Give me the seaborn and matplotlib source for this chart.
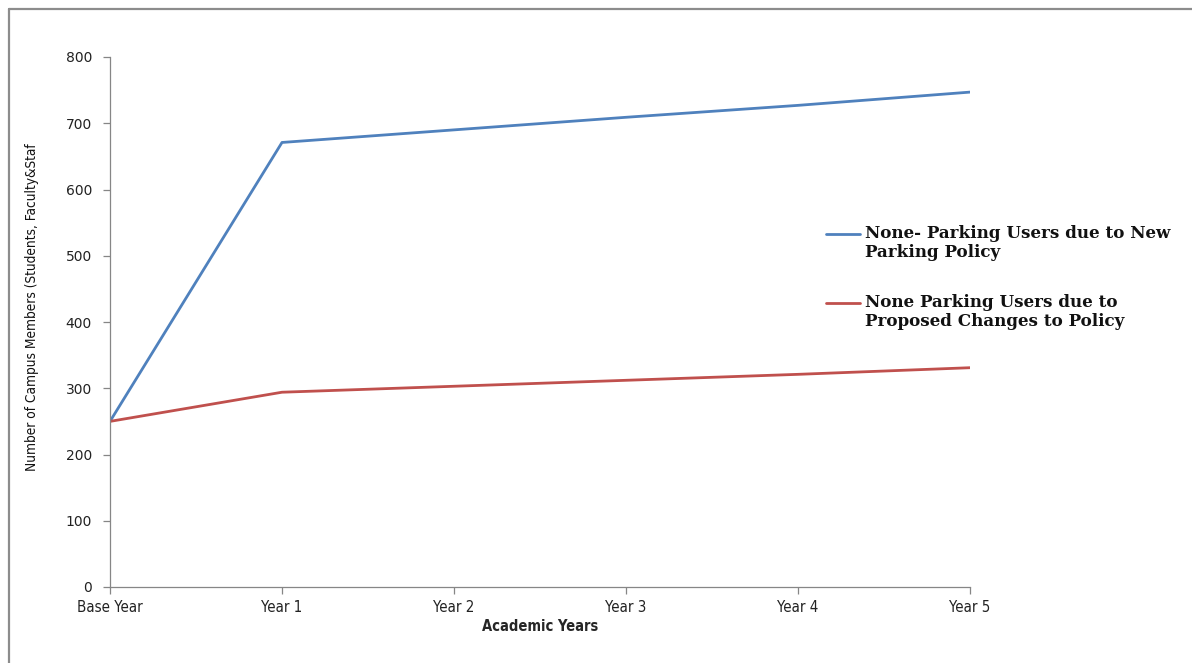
import matplotlib
matplotlib.use("Agg")
import matplotlib.pyplot as plt
import seaborn as sns
import pandas as pd
from matplotlib.lines import Line2D
from matplotlib.legend_handler import HandlerLine2D
from matplotlib import font_manager

# Academic years and projected non-parking users per scenario
years = ["Base Year", "Year 1", "Year 2", "Year 3", "Year 4", "Year 5"]
new_policy = [250, 671, 690, 709, 727, 747]
proposed_changes = [250, 294, 303, 312, 321, 331]

series_names = [
    "None- Parking Users due to New\nParking Policy",
    "None Parking Users due to\nProposed Changes to Policy",
]
colors = ["#4F81BD", "#C0504D"]

df = pd.DataFrame({
    "year": years * 2,
    "pos": list(range(len(years))) * 2,
    "value": new_policy + proposed_changes,
    "series": [series_names[0]] * len(years) + [series_names[1]] * len(years),
})

sns.set_style("white")

installed = {f.name for f in font_manager.fontManager.ttflist}
narrow = [n for n in ["Liberation Sans Narrow", "DejaVu Sans Condensed"] if n in installed] + ["DejaVu Sans"]
narrow_kw = {"family": narrow, "stretch": "condensed"}


class FirstLineHandler(HandlerLine2D):
    """Line handle aligned with the first text line of a two-line label."""

    def create_artists(self, legend, orig_handle, xdescent, ydescent,
                       width, height, fontsize, trans):
        artists = super().create_artists(legend, orig_handle, xdescent,
                                         ydescent, width, height, fontsize,
                                         trans)
        for a in artists:
            a.set_ydata([y + 0.58 * fontsize for y in a.get_ydata()])
        return artists


fig = plt.figure(figsize=(11.92, 6.63), dpi=100)
ax = fig.add_axes([110 / 1192, 1 - 587 / 663, 860 / 1192, 530 / 663])

sns.lineplot(data=df, x="pos", y="value", hue="series", palette=colors,
             linewidth=2.0, ax=ax, legend=False)

ax.set_xlim(0, len(years) - 1)
ax.set_ylim(0, 800)
ax.set_yticks(range(0, 801, 100))
ax.set_xticks(range(len(years)))
ax.set_xticklabels(years, fontsize=10.8, color="#222222", **narrow_kw)
for lbl in ax.get_yticklabels():
    lbl.set_fontsize(10)
    lbl.set_color("#222222")

for side in ["top", "right"]:
    ax.spines[side].set_visible(False)
for side in ["left", "bottom"]:
    ax.spines[side].set_color("#868686")
    ax.spines[side].set_linewidth(0.9)
ax.tick_params(axis="both", which="major", direction="out", length=5,
               width=0.9, color="#868686", left=True, bottom=True)
ax.tick_params(axis="y", pad=8)
ax.tick_params(axis="x", pad=4)

ax.set_xlabel("Academic Years", fontsize=10.5, fontweight="bold",
              labelpad=3, **narrow_kw)
ax.set_ylabel("Number of Campus Members (Students, Faculty&Staf",
              fontsize=9.8, color="#111111", **narrow_kw)
ax.yaxis.set_label_coords(-0.083, 0.528)

handles = [Line2D([0], [0], color=c, linewidth=2.0) for c in colors]
leg = fig.legend(handles, series_names, loc="upper left",
                 bbox_to_anchor=(811 / 1192, 1 - 210 / 663), frameon=False,
                 handlelength=2.0, handletextpad=0.3, labelspacing=1.97,
                 handler_map={Line2D: FirstLineHandler()},
                 prop={"family": "DejaVu Serif", "weight": "bold", "size": 12.1})
for t in leg.get_texts():
    t.set_color("#111111")
    t.set_linespacing(1.13)

# Outer frame along the top and left edges
fig.add_artist(Line2D([9 / 1192, 9 / 1192], [0, 1 - 9 / 663],
                      transform=fig.transFigure, color="#8c8c8c", linewidth=1.6))
fig.add_artist(Line2D([9 / 1192, 1], [1 - 9 / 663, 1 - 9 / 663],
                      transform=fig.transFigure, color="#8c8c8c", linewidth=1.6))

fig.savefig("out.png", dpi=100)
